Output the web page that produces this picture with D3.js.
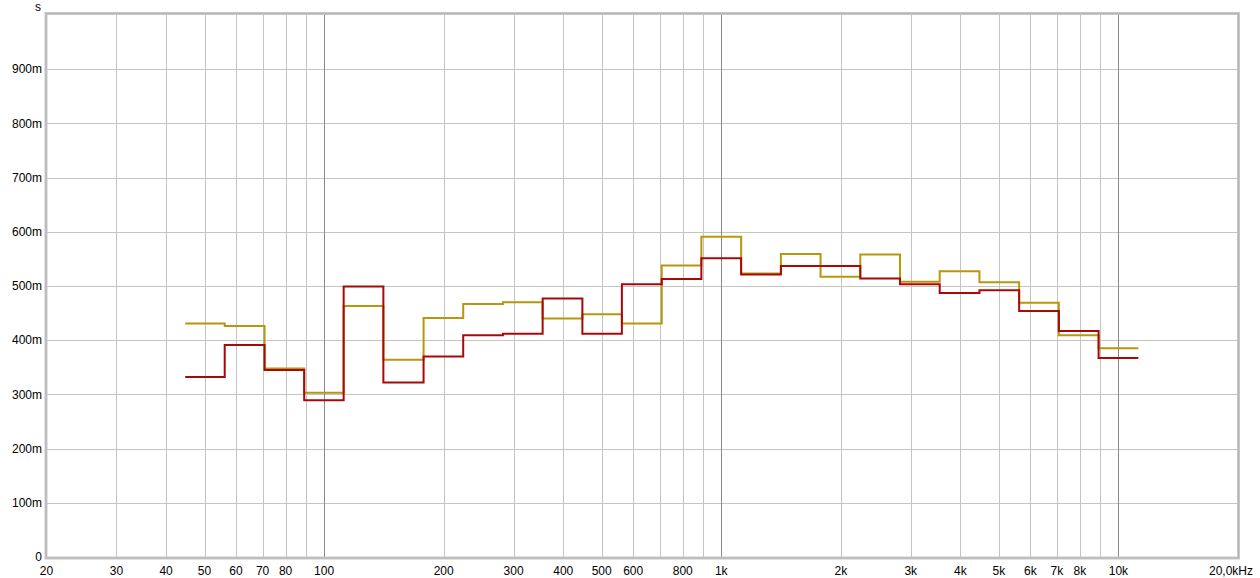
<!DOCTYPE html>
<html>
<head>
<meta charset="utf-8">
<script src="https://cdn.jsdelivr.net/npm/d3@7"></script>
<style>
  html, body { margin: 0; padding: 0; background: #ffffff; }
  svg { display: block; }
  text { font-family: "Liberation Sans", Arial, sans-serif; font-size: 12px; fill: #000; }
</style>
</head>
<body>
<svg id="chart" width="1260" height="578"></svg>
<script>
// 1/3-octave band edges (Hz)
const bandEdges = [44.7, 56.2, 70.8, 89.1, 112, 141, 178, 224, 282, 355, 447, 562, 708, 891, 1122, 1413, 1778, 2239, 2818, 3548, 4467, 5623, 7079, 8913, 11220];
// band centres (Hz)
const bandCentres = [50, 63, 80, 100, 125, 160, 200, 250, 315, 400, 500, 630, 800, 1000, 1250, 1600, 2000, 2500, 3150, 4000, 5000, 6300, 8000, 10000];
// series values (s)
const redValues  = [0.332, 0.391, 0.345, 0.289, 0.499, 0.322, 0.370, 0.409, 0.412, 0.477, 0.412, 0.503, 0.513, 0.551, 0.521, 0.537, 0.537, 0.514, 0.503, 0.487, 0.492, 0.454, 0.417, 0.367];
const goldValues = [0.431, 0.426, 0.348, 0.303, 0.463, 0.364, 0.441, 0.467, 0.470, 0.440, 0.448, 0.431, 0.538, 0.591, 0.523, 0.559, 0.517, 0.558, 0.508, 0.527, 0.507, 0.469, 0.409, 0.385];

// axis grid and labels
const xGridMinor = [30, 40, 50, 60, 70, 80, 90, 200, 300, 400, 500, 600, 700, 800, 900, 2000, 3000, 4000, 5000, 6000, 7000, 8000, 9000];
const xGridMajor = [100, 1000, 10000];
const xTickValues = [20, 30, 40, 50, 60, 70, 80, 100, 200, 300, 400, 500, 600, 800, 1000, 2000, 3000, 4000, 5000, 6000, 7000, 8000, 10000];
const xTickLabels = ["20", "30", "40", "50", "60", "70", "80", "100", "200", "300", "400", "500", "600", "800", "1k", "2k", "3k", "4k", "5k", "6k", "7k", "8k", "10k"];
const xEndLabel = "20,0kHz";
const yTickValues = [0, 0.1, 0.2, 0.3, 0.4, 0.5, 0.6, 0.7, 0.8, 0.9];
const yTickLabels = ["0", "100m", "200m", "300m", "400m", "500m", "600m", "700m", "800m", "900m"];
const yUnit = "s";

const svg = d3.select("#chart");
const L = 46.5, R = 1238, T = 15, B = 557;
const x = d3.scaleLog().domain([20, 20000]).range([L, R]);
const y = d3.scaleLinear().domain([0, 1]).range([B, T]);

const grid = svg.append("g").attr("shape-rendering", "crispEdges");
// horizontal grid
grid.selectAll("line.h").data(yTickValues.filter(v => v > 0)).enter().append("line")
  .attr("x1", L).attr("x2", R)
  .attr("y1", d => Math.round(y(d)) + 0.5).attr("y2", d => Math.round(y(d)) + 0.5)
  .attr("stroke", "#c4c4c4").attr("stroke-width", 1);
// vertical minor grid
grid.selectAll("line.vm").data(xGridMinor).enter().append("line")
  .attr("x1", d => Math.round(x(d)) + 0.5).attr("x2", d => Math.round(x(d)) + 0.5)
  .attr("y1", T).attr("y2", B)
  .attr("stroke", "#c4c4c4").attr("stroke-width", 1);
// vertical major grid
grid.selectAll("line.vM").data(xGridMajor).enter().append("line")
  .attr("x1", d => Math.round(x(d)) + 0.5).attr("x2", d => Math.round(x(d)) + 0.5)
  .attr("y1", T).attr("y2", B)
  .attr("stroke", "#8a8a8a").attr("stroke-width", 1);

// series as step lines
function stepData(values) {
  const pts = values.map((v, i) => [bandEdges[i], v]);
  pts.push([bandEdges[bandEdges.length - 1], values[values.length - 1]]);
  return pts;
}
const line = d3.line().x(d => x(d[0])).y(d => y(d[1])).curve(d3.curveStepAfter);

svg.append("path").datum(stepData(goldValues))
  .attr("d", line).attr("fill", "none")
  .attr("stroke", "#b8960e").attr("stroke-width", 2);
svg.append("path").datum(stepData(redValues))
  .attr("d", line).attr("fill", "none")
  .attr("stroke", "#a80808").attr("stroke-width", 2);

// frame
svg.append("rect")
  .attr("x", L - 0.5).attr("y", T - 1.5)
  .attr("width", R - L + 1).attr("height", B - T + 2.5)
  .attr("fill", "none").attr("stroke", "#c8c8c8").attr("stroke-width", 3);
svg.append("rect")
  .attr("x", L - 0.5).attr("y", T - 1.5)
  .attr("width", R - L + 1).attr("height", B - T + 2.5)
  .attr("fill", "none").attr("stroke", "#b4b4b4").attr("stroke-width", 1);

// y labels
svg.selectAll("text.y").data(yTickValues).enter().append("text")
  .attr("x", 42).attr("y", d => y(d)).attr("dy", "0.35em")
  .attr("text-anchor", "end")
  .text((d, i) => yTickLabels[i]);
svg.append("text").attr("x", 38).attr("y", 11).attr("text-anchor", "middle").text(yUnit);

// x labels
svg.selectAll("text.x").data(xTickValues).enter().append("text")
  .attr("x", d => x(d)).attr("y", 575)
  .attr("text-anchor", "middle")
  .text((d, i) => xTickLabels[i]);
svg.append("text").attr("x", 1253).attr("y", 575).attr("text-anchor", "end").text(xEndLabel);
</script>
</body>
</html>
